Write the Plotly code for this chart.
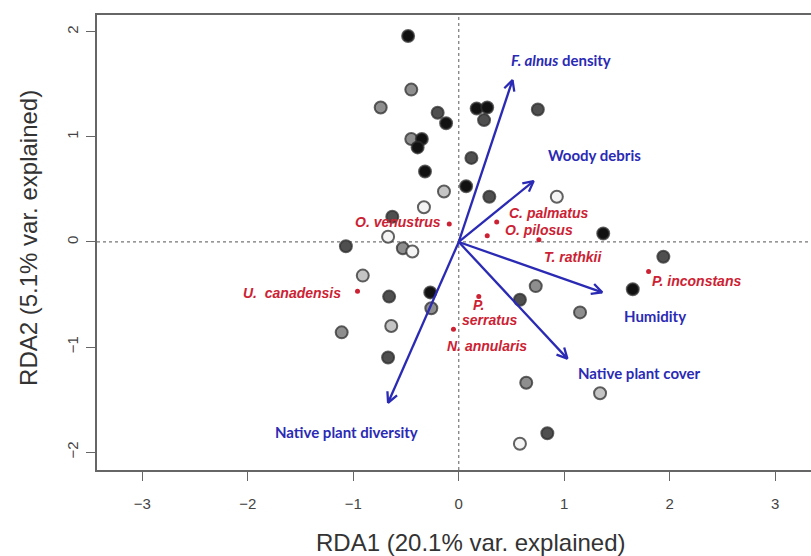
import math
import plotly.graph_objects as go

# ---- data ----
site_x = [-0.48, -0.45, -0.74, -0.20, -0.12, 0.17, 0.27, 0.24, 0.75, -0.45,
          -0.35, -0.39, 0.12, -0.32, -0.14, 0.07, 0.29, -0.33, -0.63, -0.67,
          -1.07, -0.53, -0.44, 0.93, 1.37, 1.94, 1.65, -0.91, -0.66, -0.27,
          -0.26, -0.64, -1.11, -0.67, 0.73, 0.58, 1.15, 0.64, 1.34, 0.84, 0.58]
site_y = [1.96, 1.45, 1.28, 1.23, 1.13, 1.27, 1.28, 1.16, 1.26, 0.98,
          0.98, 0.90, 0.80, 0.67, 0.48, 0.53, 0.43, 0.33, 0.24, 0.05,
          -0.04, -0.06, -0.09, 0.43, 0.08, -0.14, -0.45, -0.32, -0.52, -0.48,
          -0.63, -0.80, -0.86, -1.10, -0.42, -0.55, -0.67, -1.34, -1.44, -1.82, -1.92]
site_group = [1, 3, 3, 2, 1, 1, 1, 2, 2, 3,
              1, 1, 2, 1, 4, 1, 2, 5, 2, 5,
              2, 3, 5, 5, 1, 2, 1, 4, 2, 1,
              3, 4, 3, 2, 3, 2, 3, 3, 4, 2, 5]

species_names = ["O. venustrus", "C. palmatus", "O. pilosus", "T. rathkii",
                 "P. inconstans", "P. serratus", "N. annularis", "U. canadensis"]
species_x = [-0.09, 0.36, 0.27, 0.76, 1.80, 0.19, -0.05, -0.96]
species_y = [0.17, 0.19, 0.06, 0.02, -0.28, -0.52, -0.83, -0.47]

env_names = ["<i>F. alnus</i> density", "Woody debris", "Humidity",
             "Native plant cover", "Native plant diversity"]
env_x = [0.51, 0.71, 1.36, 1.03, -0.67]
env_y = [1.54, 0.58, -0.48, -1.11, -1.53]

x_ticks = [-3, -2, -1, 0, 1, 2, 3]
y_ticks = [-2, -1, 0, 1, 2]
x_title = "RDA1 (20.1% var. explained)"
y_title = "RDA2 (5.1% var. explained)"

# ---- style ----
group_colors = {1: "#111111", 2: "#4f4f4f", 3: "#8e8e8e", 4: "#c4c4c4", 5: "#f4f4f4"}
BLUE = "#2a2ab4"
RED = "#cc2233"
RED_FONT = dict(family="Liberation Sans, Arial", size=14, color=RED)
BLUE_FONT = dict(family="Lato, Open Sans", size=15, color=BLUE)

# label placements (data coords) and anchors
species_label_pos = {
    "O. venustrus": (-0.15, 0.19, "right"),
    "C. palmatus": (0.46, 0.28, "left"),
    "O. pilosus": (0.42, 0.11, "left"),
    "T. rathkii": (0.79, -0.14, "left"),
    "P. inconstans": (1.81, -0.37, "left"),
    "N. annularis": (-0.13, -0.99, "left"),
    "U. canadensis": (-1.10, -0.485, "right"),
}
env_label_pos = [(0.48, 1.73), (0.83, 0.83), (1.545, -0.70), (1.11, -1.245), (-1.76, -1.806)]

fig = go.Figure()

fig.add_trace(go.Scatter(
    x=site_x, y=site_y, mode="markers",
    marker=dict(size=12, color=[group_colors[g] for g in site_group],
                line=dict(color="rgba(45,45,45,0.75)", width=2)),
    showlegend=False, hoverinfo="skip"))

# arrows with open V heads
head_len = 0.11
head_ang = math.radians(27)
ax_, ay_ = [], []
for ex, ey in zip(env_x, env_y):
    th = math.atan2(ey, ex)
    h1 = (ex - head_len * math.cos(th - head_ang), ey - head_len * math.sin(th - head_ang))
    h2 = (ex - head_len * math.cos(th + head_ang), ey - head_len * math.sin(th + head_ang))
    ax_ += [0, ex, None, h1[0], ex, h2[0], None]
    ay_ += [0, ey, None, h1[1], ey, h2[1], None]
fig.add_trace(go.Scatter(x=ax_, y=ay_, mode="lines",
                         line=dict(color=BLUE, width=2.3),
                         showlegend=False, hoverinfo="skip"))

fig.add_trace(go.Scatter(x=species_x, y=species_y, mode="markers",
                         marker=dict(size=5, color=RED, symbol="circle"),
                         showlegend=False, hoverinfo="skip"))

ann = []
for name in species_names:
    if name in species_label_pos:
        lx, ly, anc = species_label_pos[name]
        txt = name.replace("U. ", "U.\u00a0 ")
        ann.append(dict(x=lx, y=ly, xref="x", yref="y", text="<b><i>%s</i></b>" % txt,
                        showarrow=False, xanchor=anc, yanchor="middle", font=RED_FONT))
# P. serratus split label
ann.append(dict(x=0.19, y=-0.60, xref="x", yref="y", text="<b><i>P.</i></b>",
                showarrow=False, xanchor="center", yanchor="middle", font=RED_FONT))
ann.append(dict(x=0.295, y=-0.742, xref="x", yref="y", text="<b><i>serratus</i></b>",
                showarrow=False, xanchor="center", yanchor="middle", font=RED_FONT))

for name, (lx, ly) in zip(env_names, env_label_pos):
    ann.append(dict(x=lx, y=ly, xref="x", yref="y", text="<b>%s</b>" % name,
                    showarrow=False, xanchor="left", yanchor="middle", font=BLUE_FONT))

TITLE_FONT = dict(family="Liberation Sans, Arial", size=24, color="#333333")
ann.append(dict(x=0.524, y=0, xref="paper", yref="paper", yanchor="middle",
                yshift=-72, text=x_title, showarrow=False, font=TITLE_FONT))
ann.append(dict(x=0, y=0.51, xref="paper", yref="paper", xanchor="center",
                xshift=-68, text=y_title, showarrow=False, textangle=-90, font=TITLE_FONT))

fig.update_layout(
    width=811, height=556,
    margin=dict(l=97, r=0, t=15, b=86, autoexpand=False),
    paper_bgcolor="white", plot_bgcolor="white",
    annotations=ann,
    shapes=[
        dict(type="line", xref="x", yref="paper", x0=0, x1=0, y0=0, y1=1,
             line=dict(color="#777777", width=1.2, dash="dot"), layer="below"),
        dict(type="line", xref="paper", yref="y", x0=0, x1=1, y0=0, y1=0,
             line=dict(color="#777777", width=1.2, dash="dot"), layer="below"),
    ],
)
fig.update_xaxes(range=[-3.43, 3.34], tickvals=x_ticks, showgrid=False, zeroline=False,
                 automargin=False,
                 showline=True, mirror=True, linecolor="#666666", linewidth=1.5,
                 ticks="outside", ticklen=9, tickcolor="#666666", tickwidth=1.2,
                 ticklabelstandoff=10,
                 tickfont=dict(family="Liberation Sans, Arial", size=15, color="#444444"))
fig.update_yaxes(range=[-2.17, 2.16], tickvals=y_ticks, showgrid=False, zeroline=False,
                 automargin=False,
                 showline=True, mirror=False, linecolor="#666666", linewidth=1.5,
                 ticks="outside", ticklen=9, tickcolor="#666666", tickwidth=1.2,
                 tickangle=-90, ticklabelstandoff=2,
                 tickfont=dict(family="Liberation Sans, Arial", size=15, color="#444444"))

fig.write_html("out.html", config={"displayModeBar": False},
               post_script="document.body.style.margin='0px';document.body.style.overflow='hidden';")
